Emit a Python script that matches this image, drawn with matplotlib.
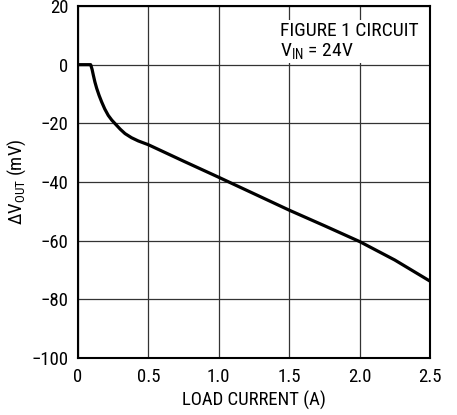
import matplotlib
matplotlib.use("Agg")
import matplotlib.pyplot as plt
from matplotlib import font_manager

names = {f.name for f in font_manager.fontManager.ttflist}
fam = "Liberation Sans"
for cand in ["Liberation Sans Narrow", "Roboto Condensed", "Open Sans Condensed", "Arial Narrow"]:
    if cand in names:
        fam = cand
        break
plt.rcParams['font.family'] = [fam, 'DejaVu Sans']
plt.rcParams['mathtext.default'] = 'regular'

load_current = [0.0, 0.09, 0.1, 0.109, 0.12, 0.133, 0.15, 0.168, 0.19, 0.215, 0.24, 0.263, 0.3, 0.334,
                0.38, 0.428, 0.5, 0.75, 1.0, 1.25, 1.5, 1.75, 2.0, 2.25, 2.5]
delta_vout = [0.0, 0.0, -1.6, -3.6, -5.9, -8.1, -10.5, -12.7, -15.1, -17.3, -18.9, -20.1, -22.0, -23.5,
              -24.9, -26.0, -27.3, -32.9, -38.4, -44.0, -49.6, -54.9, -60.3, -66.6, -73.8]

xticks = [0, 0.5, 1.0, 1.5, 2.0, 2.5]
xticklabels = ["0", "0.5", "1.0", "1.5", "2.0", "2.5"]
yticks = [-100, -80, -60, -40, -20, 0, 20]
yticklabels = ["\u2212100", "\u221280", "\u221260", "\u221240", "\u221220", "0", "20"]

fig = plt.figure(figsize=(4.57, 4.15), dpi=100)
ax = fig.add_axes([78/457, 1 - 358/415, 352/457, 352/415])
ax.plot(load_current, delta_vout, color='black', lw=2.3, solid_capstyle='butt',
        solid_joinstyle='round', zorder=3)
ax.set_xlim(0, 2.5)
ax.set_ylim(-100, 20)
ax.set_xticks(xticks)
ax.set_xticklabels(xticklabels)
ax.set_yticks(yticks)
ax.set_yticklabels(yticklabels)
ax.tick_params(length=0, labelsize=13.5, pad=7)
ax.grid(True, color='#333333', lw=0.9)
for s in ax.spines.values():
    s.set_linewidth(1.5)
ax.set_xlabel("LOAD CURRENT (A)", fontsize=13.5, labelpad=4)
ax.set_ylabel("\u0394V$_{OUT}$ (mV)", fontsize=13.5, labelpad=2)
ax.text(0.575, 0.955, "FIGURE 1 CIRCUIT\nV$_{IN}$ = 24V", transform=ax.transAxes,
        fontsize=14, va='top', ha='left', linespacing=1.05,
        bbox=dict(facecolor='white', edgecolor='none', pad=2), zorder=4)
fig.savefig("out.png", dpi=100)
